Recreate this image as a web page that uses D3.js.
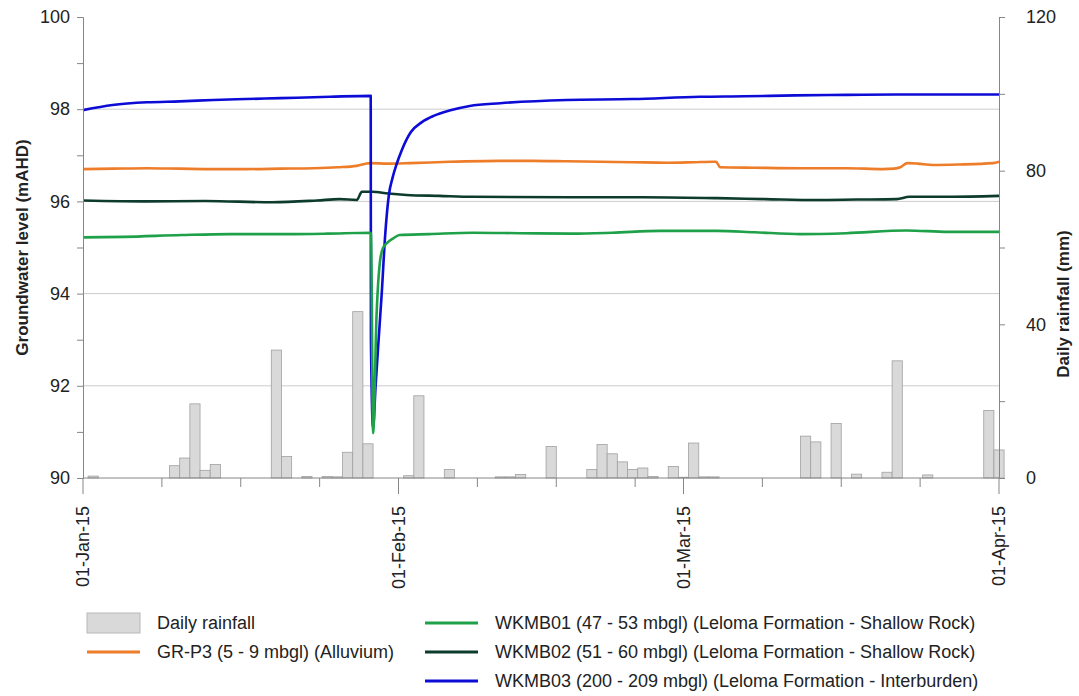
<!DOCTYPE html>
<html><head><meta charset="utf-8">
<script src="https://cdn.jsdelivr.net/npm/d3@7"></script>
<style>
body{margin:0;background:#fff;}
text{font-family:"Liberation Sans",Arial,sans-serif;fill:#222;}
</style>
</head><body>
<svg id="chart" width="1079" height="696"></svg>
<script>
// ---------- DATA ----------
const xTickLabels = ["01-Jan-15", "01-Feb-15", "01-Mar-15", "01-Apr-15"];
const xTickDates  = ["2015-01-01", "2015-02-01", "2015-03-01", "2015-04-01"];
const leftTicksLabelled = [90, 92, 94, 96, 98, 100];
const rightTicksLabelled = [0, 40, 80, 120];

// Daily rainfall (mm)
const rainDates = ["2015-01-02","2015-01-10","2015-01-11","2015-01-12","2015-01-13","2015-01-14",
  "2015-01-20","2015-01-21","2015-01-23","2015-01-25","2015-01-26","2015-01-27","2015-01-28","2015-01-29",
  "2015-02-02","2015-02-03","2015-02-06","2015-02-11","2015-02-12","2015-02-13","2015-02-16",
  "2015-02-20","2015-02-21","2015-02-22","2015-02-23","2015-02-24","2015-02-25","2015-02-26",
  "2015-02-28","2015-03-01","2015-03-02","2015-03-03","2015-03-04","2015-03-13","2015-03-14",
  "2015-03-16","2015-03-18","2015-03-21","2015-03-22","2015-03-25","2015-03-31","2015-04-01"];
const rainMm = [0.5, 3.2, 5.2, 19.3, 2.0, 3.5,
  33.3, 5.6, 0.4, 0.4, 0.3, 6.7, 43.3, 8.9,
  0.6, 21.4, 2.2, 0.3, 0.3, 0.9, 8.2,
  2.2, 8.7, 6.3, 4.2, 2.2, 2.6, 0.4,
  3.0, 0.2, 9.1, 0.3, 0.3, 10.9, 9.4,
  14.2, 1.0, 1.5, 30.5, 0.8, 17.6, 7.3];

// Groundwater levels (mAHD); time = days since 01-Jan-15 00:00
const grp3Days = [0, 3, 6.3, 9.5, 12.8, 16, 19.4, 22.6, 25, 26.9, 28.2, 30, 32.1, 36, 40.9, 44.2, 47.5, 50.8, 54, 57.4, 60, 61.9, 62.2, 62.6, 66, 70.6, 75, 78.6, 79.7, 80.3, 81.0, 82, 83.5, 86, 89.4, 90];
const grp3Level = [96.70, 96.71, 96.72, 96.71, 96.70, 96.70, 96.71, 96.72, 96.74, 96.77, 96.83, 96.82, 96.83, 96.86, 96.88, 96.88, 96.87, 96.86, 96.85, 96.84, 96.85, 96.86, 96.86, 96.74, 96.73, 96.72, 96.72, 96.70, 96.71, 96.74, 96.83, 96.82, 96.79, 96.80, 96.83, 96.86];

const wkmb01Days = [0, 4, 9.7, 14.4, 20, 24, 28.2, 28.3, 28.5, 28.85, 29.2, 29.5, 29.83, 30.5, 31.1, 34, 38.3, 43, 48, 52, 56.7, 62.3, 66, 70.5, 75, 80.9, 85, 90];
const wkmb01Level = [95.22, 95.23, 95.27, 95.29, 95.29, 95.30, 95.32, 95.30, 90.97, 93.57, 94.73, 95.0, 95.09, 95.2, 95.27, 95.29, 95.32, 95.31, 95.30, 95.32, 95.36, 95.36, 95.33, 95.29, 95.31, 95.37, 95.34, 95.34];

const wkmb02Days = [0, 6.3, 12, 18.6, 23, 25.2, 26.9, 27.4, 28.4, 30, 31.8, 35, 38.3, 48, 55, 62.3, 67, 72.1, 76, 79.95, 81.2, 85, 90];
const wkmb02Level = [96.02, 96.00, 96.01, 95.98, 96.02, 96.05, 96.03, 96.21, 96.21, 96.17, 96.14, 96.12, 96.10, 96.09, 96.09, 96.07, 96.05, 96.03, 96.04, 96.05, 96.10, 96.10, 96.12];

const wkmb03Days = [0, 2.9, 6.3, 9.5, 12.8, 16, 19.4, 24.3, 28.27, 28.29, 28.5, 28.75, 29.0, 29.35, 29.7, 30.06, 30.4, 30.8, 31.3, 32.2, 33.3, 34.5, 36, 38, 41, 47.5, 54, 60.6, 65, 70, 75, 80, 90];
const wkmb03Level = [97.98, 98.09, 98.15, 98.17, 98.2, 98.22, 98.24, 98.27, 98.29, 93.0, 91.1, 92.0, 92.85, 94.0, 95.3, 96.15, 96.5, 96.8, 97.1, 97.5, 97.72, 97.86, 97.97, 98.07, 98.13, 98.2, 98.22, 98.27, 98.28, 98.3, 98.31, 98.32, 98.32];

const seriesNames = ["GR-P3 (5 - 9 mbgl) (Alluvium)",
  "WKMB01 (47 - 53 mbgl) (Leloma Formation - Shallow Rock)",
  "WKMB02 (51 - 60 mbgl) (Leloma Formation - Shallow Rock)",
  "WKMB03 (200 - 209 mbgl) (Leloma Formation - Interburden)"];
const seriesColors = ["#ee7d2a", "#1ea148", "#0d3b2d", "#0c0cd6"];

// ---------- CHART ----------
const svg = d3.select("#chart");
const L = 83, R = 999, T = 17, B = 478;
const start = new Date(Date.UTC(2015, 0, 1));
const toDate = d => new Date(start.getTime() + d * 86400000);
const parse = s => new Date(s + "T00:00:00Z");

const x = d3.scaleUtc().domain([parse(xTickDates[0]), parse(xTickDates[3])]).range([L, R]);
const yL = d3.scaleLinear().domain([90, 100]).range([B, T]);
const yR = d3.scaleLinear().domain([0, 120]).range([B, T]);

// gridlines
svg.append("g").selectAll("line").data([92, 94, 96, 98]).join("line")
  .attr("x1", L).attr("x2", R).attr("y1", d => yL(d)).attr("y2", d => yL(d))
  .attr("stroke", "#cccccc").attr("stroke-width", 1);

// bars
const dayW = x(toDate(1)) - x(toDate(0));
svg.append("g").selectAll("rect").data(rainDates.map((d, i) => ({d: parse(d), v: rainMm[i]}))).join("rect")
  .attr("x", d => x(d.d) - dayW / 2).attr("width", dayW)
  .attr("y", d => yR(d.v)).attr("height", d => B - yR(d.v))
  .attr("fill", "#d9d9d9").attr("stroke", "#a0a0a0").attr("stroke-width", 0.8);

// lines
const line = d3.line().x(d => x(d.t)).y(d => yL(d.v)).curve(d3.curveMonotoneX);
const seriesData = [
  [grp3Days, grp3Level], [wkmb01Days, wkmb01Level], [wkmb02Days, wkmb02Level], [wkmb03Days, wkmb03Level]
];
const order = [0, 2, 3, 1];
order.forEach(i => {
  const [ds, vs] = seriesData[i];
  svg.append("path").datum(ds.map((d, k) => ({t: toDate(d), v: vs[k]})))
    .attr("d", line).attr("fill", "none").attr("stroke", seriesColors[i])
    .attr("stroke-width", 2.6).attr("stroke-linejoin", "round");
});

// axes
const axisColor = "#868686";
// left axis
const gl = svg.append("g").attr("transform", `translate(${L},0)`)
  .call(d3.axisLeft(yL).tickValues(d3.range(90, 101, 1)).tickSize(6).tickFormat(d => leftTicksLabelled.includes(d) ? d : ""));
gl.select(".domain").attr("stroke", axisColor);
gl.selectAll(".tick line").attr("stroke", axisColor);
gl.selectAll(".tick text").attr("font-size", 18).attr("x", -13).attr("fill", "#222")
  .attr("font-family", "Liberation Sans, Arial, sans-serif");
// right axis
const gr = svg.append("g").attr("transform", `translate(${R},0)`)
  .call(d3.axisRight(yR).tickValues(d3.range(0, 121, 20)).tickSize(6).tickFormat(d => rightTicksLabelled.includes(d) ? d : ""));
gr.select(".domain").attr("stroke", axisColor);
gr.selectAll(".tick line").attr("stroke", axisColor);
gr.selectAll(".tick text").attr("font-size", 18).attr("x", 27).attr("fill", "#222")
  .attr("font-family", "Liberation Sans, Arial, sans-serif");

// bottom axis
svg.append("line").attr("x1", L).attr("x2", R).attr("y1", B).attr("y2", B).attr("stroke", axisColor);
const majorTicks = xTickDates.map(parse);
const minorTicks = [];
for (let m = 0; m < 3; m++) {
  for (let k = 1; k <= 3; k++) {
    const t = new Date(majorTicks[m].getTime() + k * 7.75 * 86400000);
    if (t < majorTicks[m + 1]) minorTicks.push(t);
  }
}
svg.append("g").selectAll("line").data(minorTicks).join("line")
  .attr("x1", d => x(d)).attr("x2", d => x(d)).attr("y1", B).attr("y2", B + 9).attr("stroke", axisColor);
svg.append("g").selectAll("line").data(majorTicks).join("line")
  .attr("x1", d => x(d)).attr("x2", d => x(d)).attr("y1", B).attr("y2", B + 16).attr("stroke", axisColor);
svg.append("g").selectAll("text").data(majorTicks).join("text")
  .attr("transform", d => `translate(${x(d)},506) rotate(-90)`)
  .attr("text-anchor", "end").attr("dy", "0.35em").attr("font-size", 18)
  .text((d, i) => xTickLabels[i]);

// axis titles
svg.append("text").attr("transform", `translate(28,${(T + B) / 2}) rotate(-90)`)
  .attr("text-anchor", "middle").attr("font-size", 17).attr("font-weight", "bold")
  .text("Groundwater level (mAHD)");
svg.append("text").attr("transform", `translate(1069,304) rotate(-90)`)
  .attr("text-anchor", "middle").attr("font-size", 17).attr("font-weight", "bold")
  .text("Daily rainfall (mm)");

// legend
const lg = svg.append("g");
const rowY = [623, 652, 681];
lg.append("rect").attr("x", 87).attr("y", rowY[0] - 10).attr("width", 53).attr("height", 20)
  .attr("fill", "#d9d9d9").attr("stroke", "#b8b8b8");
lg.append("text").attr("x", 157).attr("y", rowY[0]).attr("dy", "0.35em").attr("font-size", 18).text("Daily rainfall");
const legendItems = [
  {i: 0, x: 87, y: rowY[1]},
  {i: 1, x: 425, y: rowY[0]},
  {i: 2, x: 425, y: rowY[1]},
  {i: 3, x: 425, y: rowY[2]}
];
legendItems.forEach(it => {
  lg.append("line").attr("x1", it.x).attr("x2", it.x + 53).attr("y1", it.y).attr("y2", it.y)
    .attr("stroke", seriesColors[it.i]).attr("stroke-width", 3);
  lg.append("text").attr("x", it.x + 70).attr("y", it.y).attr("dy", "0.35em").attr("font-size", 18)
    .text(seriesNames[it.i]);
});
</script>
</body></html>
